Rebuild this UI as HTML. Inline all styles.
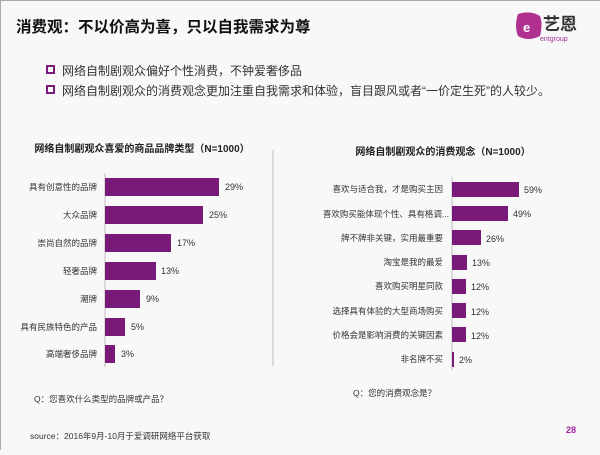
<!DOCTYPE html>
<html><head><meta charset="utf-8"><style>
html,body{margin:0;padding:0;}
body{width:600px;height:450px;background:#f8f8f8;overflow:hidden;font-family:"Liberation Sans","Noto Sans CJK SC",sans-serif;}
</style></head><body>
<svg width="600" height="450" xmlns="http://www.w3.org/2000/svg" font-family="Liberation Sans, Noto Sans CJK SC, sans-serif">
<rect x="0" y="0" width="600" height="450" fill="#f8f8f8"/>
<line x1="0" y1="0.5" x2="600" y2="0.5" stroke="#aaa"/>
<line x1="0.5" y1="0" x2="0.5" y2="450" stroke="#aaa"/>
<text x="16" y="32" font-size="15.5" font-weight="bold" fill="#111">消费观：不以价高为喜，只以自我需求为尊</text>
<!-- logo -->
<path d="M518 14 q12 -4 22 2 q3 8 0 20 q-12 6 -22 0 q-4 -10 0 -22z" fill="#b0308f"/>
<text x="523" y="32" font-size="13" font-weight="bold" fill="#fff">e</text>
<text x="543" y="30" font-size="17" font-weight="bold" fill="#333">艺恩</text>
<text x="540" y="41" font-size="7" fill="#a03090">entgroup</text>
<!-- bullets -->
<rect x="47" y="66" width="7" height="7" fill="none" stroke="#7b1a7b" stroke-width="2"/>
<rect x="47" y="86" width="7" height="7" fill="none" stroke="#7b1a7b" stroke-width="2"/>
<text x="62" y="75" font-size="12" fill="#333">网络自制剧观众偏好个性消费，不钟爱奢侈品</text>
<text x="62" y="95" font-size="12" fill="#333">网络自制剧观众的消费观念更加注重自我需求和体验，盲目跟风或者“一价定生死”的人较少。</text>
<!-- left chart -->
<text x="142" y="152" font-size="10" font-weight="bold" fill="#222" text-anchor="middle">网络自制剧观众喜爱的商品品牌类型（N=1000）</text>
<line x1="273" y1="150" x2="273" y2="366" stroke="#bbb"/>
<line x1="105" y1="173" x2="105" y2="367" stroke="#bbb"/>
<g fill="#7a1a78">
<rect x="105" y="178" width="114" height="18"/>
<rect x="105" y="206" width="98" height="18"/>
<rect x="105" y="234" width="66" height="18"/>
<rect x="105" y="262" width="51" height="18"/>
<rect x="105" y="290" width="35" height="18"/>
<rect x="105" y="318" width="20" height="18"/>
<rect x="105" y="345" width="10" height="18"/>
</g>
<g font-size="8.5" fill="#333" text-anchor="end">
<text x="97" y="190">具有创意性的品牌</text>
<text x="97" y="218">大众品牌</text>
<text x="97" y="246">崇尚自然的品牌</text>
<text x="97" y="274">轻奢品牌</text>
<text x="97" y="302">潮牌</text>
<text x="97" y="330">具有民族特色的产品</text>
<text x="97" y="357">高端奢侈品牌</text>
</g>
<g font-size="9" fill="#333">
<text x="225" y="190">29%</text>
<text x="209" y="218">25%</text>
<text x="177" y="246">17%</text>
<text x="161" y="274">13%</text>
<text x="146" y="302">9%</text>
<text x="131" y="330">5%</text>
<text x="121" y="357">3%</text>
</g>
<!-- right chart -->
<text x="443" y="155" font-size="10" font-weight="bold" fill="#222" text-anchor="middle">网络自制剧观众的消费观念（N=1000）</text>
<line x1="452" y1="177" x2="452" y2="370" stroke="#bbb"/>
<g fill="#7a1a78">
<rect x="452" y="182" width="67" height="15"/>
<rect x="452" y="206" width="56" height="15"/>
<rect x="452" y="230" width="29" height="15"/>
<rect x="452" y="255" width="15" height="15"/>
<rect x="452" y="279" width="14" height="15"/>
<rect x="452" y="303" width="14" height="15"/>
<rect x="452" y="327" width="14" height="15"/>
<rect x="452" y="352" width="2" height="15"/>
</g>
<g font-size="8.5" fill="#333" text-anchor="end">
<text x="443" y="192">喜欢与适合我，才是购买主因</text>
<text x="449" y="217">喜欢购买能体现个性、具有格调...</text>
<text x="443" y="241">牌不牌非关键，实用最重要</text>
<text x="443" y="265">淘宝是我的最爱</text>
<text x="443" y="289">喜欢购买明星同款</text>
<text x="443" y="314">选择具有体验的大型商场购买</text>
<text x="443" y="338">价格会是影响消费的关键因素</text>
<text x="443" y="362">非名牌不买</text>
</g>
<g font-size="9" fill="#333">
<text x="524" y="193">59%</text>
<text x="513" y="217">49%</text>
<text x="486" y="242">26%</text>
<text x="472" y="266">13%</text>
<text x="471" y="290">12%</text>
<text x="471" y="315">12%</text>
<text x="471" y="339">12%</text>
<text x="459" y="363">2%</text>
</g>
<text x="34" y="402" font-size="8.5" fill="#333">Q：您喜欢什么类型的品牌或产品？</text>
<text x="353" y="396" font-size="8.5" fill="#333">Q：您的消费观念是？</text>
<text x="30" y="439" font-size="8.5" fill="#333">source：2016年9月-10月于爱调研网络平台获取</text>
<text x="566" y="433" font-size="9" font-weight="bold" fill="#a020a0">28</text>
</svg>
</body></html>
